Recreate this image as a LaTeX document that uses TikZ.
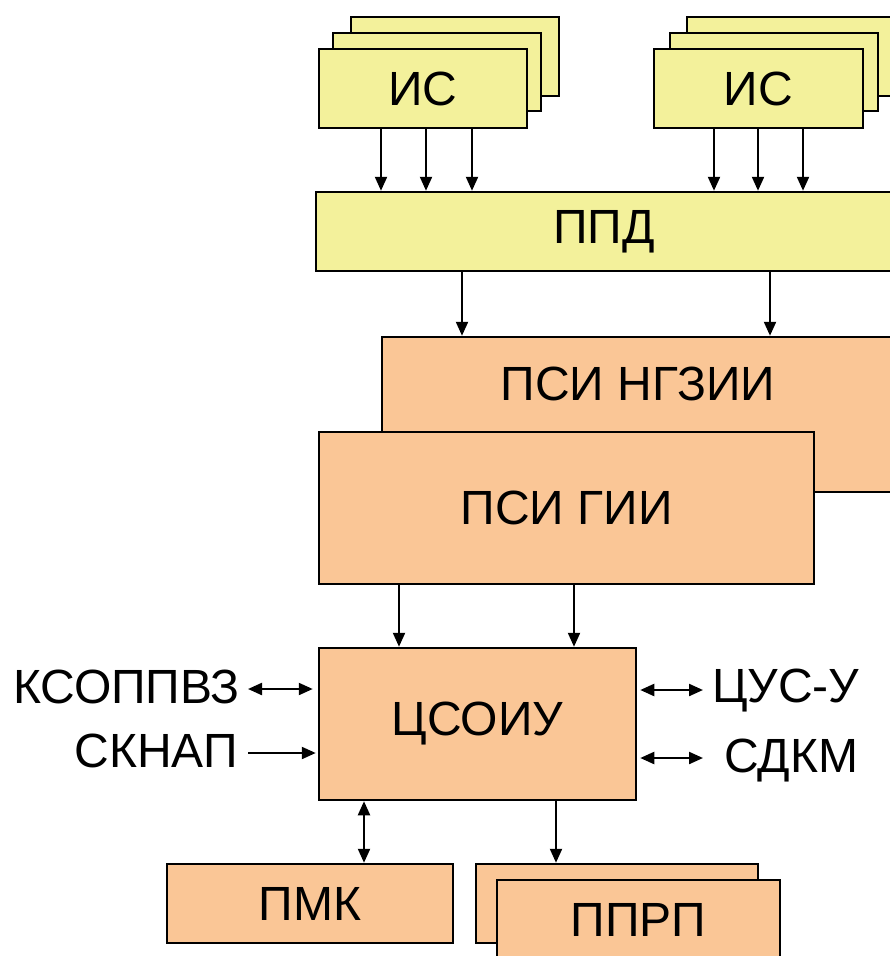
\documentclass[tikz,border=0pt]{standalone}
\usepackage{fontspec}
\setmainfont{Liberation Sans}
\usetikzlibrary{arrows.meta}
\definecolor{ylw}{RGB}{243,241,155}
\definecolor{org}{RGB}{250,198,150}
\tikzset{
  box/.style={draw=black, line width=2.5pt, inner sep=0pt, font=\fontsize{48}{52}\selectfont},
  ybox/.style={box, fill=ylw},
  obox/.style={box, fill=org},
  lbl/.style={inner sep=0pt, font=\fontsize{48}{52}\selectfont},
  tip/.tip={Triangle[length=14pt,width=12pt]},
  arr/.style={line width=2.2pt, -tip},
  darr/.style={line width=2.2pt, tip-tip},
}
\begin{document}
\begin{tikzpicture}[x=1pt,y=-1pt]
\path[use as bounding box] (0,0) rectangle (890,956);
\clip (0,0) rectangle (890,956);

% left IS stack
\node[ybox, minimum width=208pt, minimum height=79pt] (isLc) at (455,56.5) {};
\node[ybox, minimum width=208pt, minimum height=78pt] (isLb) at (437,72) {};
\node[ybox, minimum width=208pt, minimum height=79pt] (isL) at (423,88.5) {ИС};
% right IS stack
\node[ybox, minimum width=208pt, minimum height=79pt] (isRc) at (791,56.5) {};
\node[ybox, minimum width=208pt, minimum height=78pt] (isRb) at (774,72) {};
\node[ybox, minimum width=209pt, minimum height=79pt] (isR) at (758.5,88.5) {ИС};

% PPD
\node[ybox, minimum width=576pt, minimum height=79pt] (ppd) at (604,231.5) {ППД};

% PSI NGZII and PSI GII
\node[obox, minimum width=512pt, minimum height=155pt] (ngz) at (638,414.5) {};
\node[lbl] (ngzt) at (638,384) {ПСИ НГЗИИ};
\node[obox, minimum width=495pt, minimum height=152pt] (gii) at (566.5,508) {ПСИ ГИИ};

% central
\node[obox, minimum width=317pt, minimum height=152pt] (cs) at (477.5,724) {ЦСОИУ};

% bottom
\node[obox, minimum width=286pt, minimum height=79pt] (pmk) at (310,903.5) {ПМК};
\node[obox, minimum width=282pt, minimum height=79pt] (pprpb) at (617,903.5) {};
\node[obox, minimum width=283pt, minimum height=79pt] (pprp) at (638.5,919.5) {ППРП};

% side labels
\node[lbl, anchor=base east] (kso) at (240,703) {КСОППВЗ};
\node[lbl, anchor=base east] (skn) at (238,767) {СКНАП};
\node[lbl, anchor=base west] (cus) at (712,702) {ЦУС-У};
\node[lbl, anchor=base west] (sdk) at (724,772) {СДКМ};

% arrows IS -> PPD
\foreach \x in {381,426,472} {
  \coordinate (c) at (\x,0);
  \draw[arr] (c |- isL.south) -- (c |- ppd.north);
}
\foreach \x in {714,758,803} {
  \coordinate (c) at (\x,0);
  \draw[arr] (c |- isR.south) -- (c |- ppd.north);
}
% PPD -> NGZII
\foreach \x in {462,770} {
  \coordinate (c) at (\x,0);
  \draw[arr] (c |- ppd.south) -- (c |- ngz.north);
}
% GII -> CS
\foreach \x in {399,574} {
  \coordinate (c) at (\x,0);
  \draw[arr] (c |- gii.south) -- (c |- cs.north);
}
% CS -> bottom
\coordinate (b1) at (364,0);
\draw[darr] (b1 |- cs.south) -- (b1 |- pmk.north);
\coordinate (b2) at (556,0);
\draw[arr] (b2 |- cs.south) -- (b2 |- pprpb.north);

% side arrows
\coordinate (l1) at (248,689);
\coordinate (l2) at (248,753);
\coordinate (r1) at (703,690);
\coordinate (r2) at (703,758);
\draw[darr] (l1) -- ([xshift=-5pt]l1 -| cs.west);
\draw[arr] (l2) -- ([xshift=-2pt]l2 -| cs.west);
\draw[darr] ([xshift=3pt]r1 -| cs.east) -- (r1);
\draw[darr] ([xshift=3pt]r2 -| cs.east) -- (r2);
\end{tikzpicture}
\end{document}
